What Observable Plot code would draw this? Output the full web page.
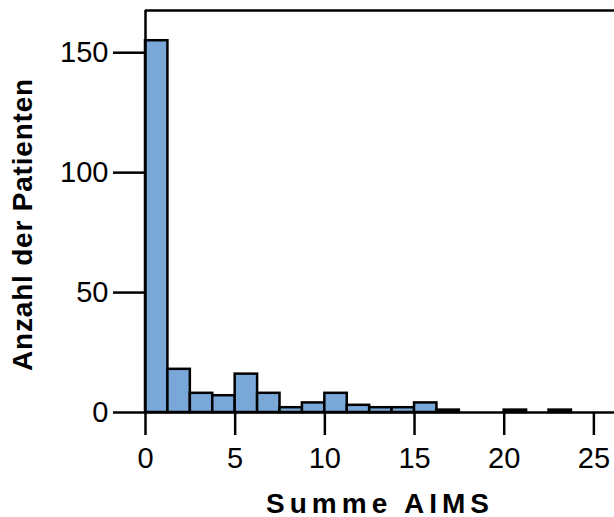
<!DOCTYPE html>
<html>
<head>
<meta charset="utf-8">
<script src="https://cdn.jsdelivr.net/npm/d3@7"></script>
<script src="https://cdn.jsdelivr.net/npm/@observablehq/plot@0.6"></script>
<style>
  html, body { margin: 0; padding: 0; background: #fff; }
  #chart svg { display: block; }
  #chart [aria-label="x-axis label"] text { font-weight: bold; font-size: 28px; letter-spacing: 5px; }
  #chart .ylab text { letter-spacing: 0.8px; }
</style>
</head>
<body>
<div id="chart"></div>
<script>
// Histogram of "Summe AIMS" (bin edges and counts)
const binEdges = [0, 1.25, 2.5, 3.75, 5, 6.25, 7.5, 8.75, 10, 11.25, 12.5, 13.75, 15, 16.25, 17.5, 18.75, 20, 21.25, 22.5, 23.75, 25];
const counts   = [155, 18, 8, 7, 16, 8, 2, 4, 8, 3, 2, 2, 4, 1, 0, 0, 1, 0, 1, 0];
const xTicks = [0, 5, 10, 15, 20, 25];
const yTicks = [0, 50, 100, 150];
const xLabel = "Summe AIMS";
const yLabel = "Anzahl der Patienten";

const bins = counts.map((c, i) => ({x1: binEdges[i], x2: binEdges[i + 1], count: c})).filter(d => d.count > 0);

const xMax = 26.15;
const yMax = 167.6;

const chart = Plot.plot({
  width: 614,
  height: 517,
  marginLeft: 145,
  marginRight: 0,
  marginTop: 10,
  marginBottom: 105,
  style: {fontFamily: "'Liberation Sans', Arial, sans-serif", fontSize: "29px", background: "#fff", color: "#000", overflow: "visible"},
  x: {domain: [0, xMax]},
  y: {domain: [0, yMax]},
  marks: [
    Plot.rectY(bins, {x1: "x1", x2: "x2", y: "count", fill: "#79a7d8", stroke: "#000", strokeWidth: 2.5, inset: 0}),
    Plot.ruleY([0], {stroke: "#000", strokeWidth: 2.5}),
    Plot.ruleY([yMax], {stroke: "#000", strokeWidth: 2.5}),
    Plot.ruleX([0], {stroke: "#000", strokeWidth: 2.5}),
    Plot.axisX({ticks: xTicks, tickSize: 23, tickPadding: 12, strokeWidth: 2.5, label: xLabel, labelAnchor: "center", labelArrow: "none", labelOffset: 100}),
    Plot.axisY({ticks: yTicks, tickSize: 32, tickPadding: 5, strokeWidth: 2.5, label: null}),
    Plot.text([yLabel], {text: d => d, frameAnchor: "left", dx: -133, dy: 13, rotate: -90, textAnchor: "middle", lineAnchor: "top", fontWeight: "bold", fontSize: 28, fill: "#000", className: "ylab"})
  ]
});
document.getElementById("chart").append(chart);
</script>
</body>
</html>
